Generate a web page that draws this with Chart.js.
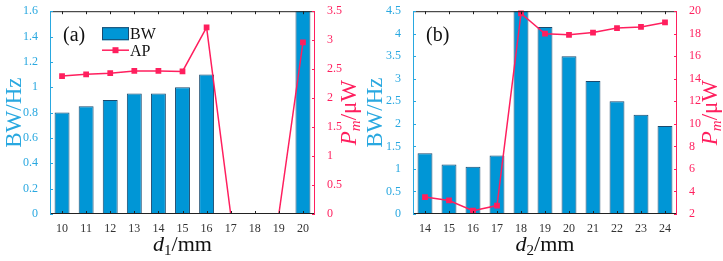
<!DOCTYPE html>
<html>
<head>
<meta charset="utf-8">
<script src="https://cdn.jsdelivr.net/npm/chart.js@4"></script>
<style>
  body { margin: 0; background: #fff; }
  .wrap { display: flex; width: 723px; height: 261px; }
  .box { position: relative; width: 361px; height: 261px; }
  .box.b { width: 362px; }
</style>
</head>
<body>
<div class="wrap">
  <div class="box"><canvas id="chartA"></canvas></div>
  <div class="box b"><canvas id="chartB"></canvas></div>
</div>
<script>
// panel (a)
const d1 = ['10', '11', '12', '13', '14', '15', '16', '17', '18', '19', '20']
const bwA = [0.8, 0.85, 0.9, 0.95, 0.95, 1.0, 1.1, 0, 0, 0, 2.0]
const apA = [2.38, 2.41, 2.43, 2.47, 2.47, 2.46, 3.22, 0, 0, 0, 2.96]
// panel (b)
const d2 = ['14', '15', '16', '17', '18', '19', '20', '21', '22', '23', '24']
const bwB = [1.35, 1.1, 1.05, 1.3, 4.6, 4.15, 3.5, 2.95, 2.5, 2.2, 1.95]
const apB = [3.5, 3.2, 2.3, 2.75, 19.8, 18.0, 17.9, 18.1, 18.5, 18.6, 19.0]

const BLUE = '#0096d6'
const TXTBLUE = '#29a8e0'
const PINK = '#ff1f5e'
const SERIF = '"Liberation Serif", "DejaVu Serif", serif'
const fmt = v => String(+Number(v).toFixed(2))

// axis titles, frame, inward ticks, legend and panel tag
const decor = {
  id: 'decor',
  afterDraw(chart) {
    const o = chart.options.plugins.decor
    const c = chart.ctx
    const a = chart.chartArea
    const x = chart.scales.x, yl = chart.scales.y, yr = chart.scales.y2
    c.save()
    // frame
    c.lineWidth = 1
    c.strokeStyle = '#222'
    c.beginPath()
    c.moveTo(a.left, a.top + 0.5); c.lineTo(a.right, a.top + 0.5)
    c.moveTo(a.left, a.bottom - 0.5); c.lineTo(a.right, a.bottom - 0.5)
    c.stroke()
    c.strokeStyle = TXTBLUE
    c.beginPath(); c.moveTo(a.left + 0.5, a.top); c.lineTo(a.left + 0.5, a.bottom); c.stroke()
    c.strokeStyle = PINK
    c.beginPath(); c.moveTo(a.right - 0.5, a.top); c.lineTo(a.right - 0.5, a.bottom); c.stroke()
    // x ticks (inward, top and bottom)
    c.strokeStyle = '#222'
    c.beginPath()
    x.ticks.forEach((t, i) => {
      const px = Math.round(x.getPixelForTick(i)) + 0.5
      c.moveTo(px, a.bottom); c.lineTo(px, a.bottom - 3)
      c.moveTo(px, a.top); c.lineTo(px, a.top + 3)
    })
    c.stroke()
    // y ticks
    c.strokeStyle = TXTBLUE
    c.beginPath()
    yl.ticks.forEach(t => {
      const py = Math.round(yl.getPixelForValue(t.value)) + 0.5
      c.moveTo(a.left, py); c.lineTo(a.left + 3, py)
    })
    c.stroke()
    c.strokeStyle = PINK
    c.beginPath()
    yr.ticks.forEach(t => {
      const py = Math.round(yr.getPixelForValue(t.value)) + 0.5
      c.moveTo(a.right, py); c.lineTo(a.right - 3, py)
    })
    c.stroke()

    const midY = (a.top + a.bottom) / 2
    // left title
    c.fillStyle = TXTBLUE
    c.font = '23px ' + SERIF
    c.textAlign = 'center'
    c.textBaseline = 'middle'
    c.save()
    c.translate(o.leftTitleX, midY)
    c.rotate(-Math.PI / 2)
    c.fillText('BW/Hz', 0, 0)
    c.restore()
    // right title  P_m/μW
    c.save()
    c.translate(o.rightTitleX, midY)
    c.rotate(-Math.PI / 2)
    c.fillStyle = PINK
    c.textAlign = 'left'
    c.textBaseline = 'alphabetic'
    const p1 = 'P', p2 = 'm', p3 = '/μW'
    c.font = 'italic 23px ' + SERIF
    const w1 = c.measureText(p1).width
    c.font = 'italic 15px ' + SERIF
    const w2 = c.measureText(p2).width
    c.font = '23px ' + SERIF
    const w3 = c.measureText(p3).width
    let sx = -(w1 + w2 + w3) / 2
    c.font = 'italic 23px ' + SERIF
    c.fillText(p1, sx, 8); sx += w1
    c.font = 'italic 15px ' + SERIF
    c.fillText(p2, sx, 12); sx += w2
    c.font = '23px ' + SERIF
    c.fillText(p3, sx, 8)
    c.restore()
    // bottom title d_i/mm
    c.fillStyle = '#111'
    c.textBaseline = 'alphabetic'
    c.textAlign = 'left'
    c.font = 'italic 22px ' + SERIF
    const q1 = c.measureText('d').width
    c.font = '15px ' + SERIF
    const q2 = c.measureText(o.sub).width
    c.font = '22px ' + SERIF
    const q3 = c.measureText('/mm').width
    let bx = (a.left + a.right) / 2 - (q1 + q2 + q3) / 2
    const by = 251
    c.font = 'italic 22px ' + SERIF
    c.fillText('d', bx, by); bx += q1
    c.font = '15px ' + SERIF
    c.fillText(o.sub, bx, by + 4); bx += q2
    c.font = '22px ' + SERIF
    c.fillText('/mm', bx, by)
    // panel tag
    c.font = '20px ' + SERIF
    c.fillText(o.tag, a.left + 13, a.top + 30)
    // legend
    if (o.legend) {
      const lx = a.left + 52
      c.fillStyle = BLUE
      c.fillRect(lx, a.top + 16, 27, 13)
      c.strokeStyle = '#1b4a6e'
      c.strokeRect(lx + 0.5, a.top + 16.5, 26, 12)
      c.fillStyle = '#111'
      c.font = '16px ' + SERIF
      c.fillText('BW', lx + 28, a.top + 28)
      c.strokeStyle = PINK
      c.lineWidth = 1.5
      c.beginPath(); c.moveTo(lx, a.top + 39); c.lineTo(lx + 27, a.top + 39); c.stroke()
      c.fillStyle = PINK
      c.fillRect(lx + 10.5, a.top + 36, 6, 6)
      c.fillStyle = '#111'
      c.fillText('AP', lx + 28, a.top + 45)
    }
    c.restore()
  }
}

function makeChart(id, labels, bw, ap, cfg) {
  return new Chart(id, {
    data: {
      labels: labels,
      datasets: [{
        type: 'line',
        data: ap,
        yAxisID: 'y2',
        borderColor: PINK,
        backgroundColor: PINK,
        borderWidth: 1.5,
        pointStyle: 'rect',
        pointRadius: ctx => ctx.raw === 0 ? 0 : 3,
        tension: 0,
        clip: { left: 4, right: 4, top: 4, bottom: 0 },
        order: 0
      }, {
        type: 'bar',
        data: bw,
        yAxisID: 'y',
        backgroundColor: BLUE,
        borderColor: '#1b4a6e',
        borderWidth: 1,
        barPercentage: 0.62,
        categoryPercentage: 1,
        order: 1
      }]
    },
    options: {
      responsive: true,
      maintainAspectRatio: false,
      animation: false,
      layout: { padding: { top: 9, left: 0, right: 0, bottom: 0 } },
      plugins: {
        legend: { display: false },
        tooltip: { enabled: false },
        decor: cfg.decor
      },
      scales: {
        x: {
          grid: { display: false },
          border: { display: false },
          ticks: { color: '#333', font: { family: SERIF, size: 12 }, padding: 0, maxRotation: 0 },
          afterFit: s => { s.height = 47 }
        },
        y: {
          position: 'left',
          min: 0, max: cfg.yMax,
          grid: { display: false },
          border: { display: false },
          ticks: { stepSize: cfg.yStep, color: TXTBLUE, font: { family: SERIF, size: 12 }, padding: 4, callback: fmt },
          afterFit: s => { s.width = cfg.left }
        },
        y2: {
          position: 'right',
          min: cfg.y2Min, max: cfg.y2Max,
          grid: { display: false },
          border: { display: false },
          ticks: { stepSize: cfg.y2Step, color: PINK, font: { family: SERIF, size: 12 }, padding: 4, callback: fmt },
          afterFit: s => { s.width = cfg.right }
        }
      }
    },
    plugins: [decor]
  })
}

makeChart('chartA', d1, bwA, apA, {
  yMax: 1.6, yStep: 0.2, y2Min: 0, y2Max: 3.5, y2Step: 0.5, left: 50, right: 46,
  decor: { tag: '(a)', sub: '1', legend: true, leftTitleX: 15, rightTitleX: 348 }
})
makeChart('chartB', d2, bwB, apB, {
  yMax: 4.5, yStep: 0.5, y2Min: 2, y2Max: 20, y2Step: 2, left: 52, right: 46,
  decor: { tag: '(b)', sub: '2', legend: false, leftTitleX: 15, rightTitleX: 348 }
})
</script>
</body>
</html>
